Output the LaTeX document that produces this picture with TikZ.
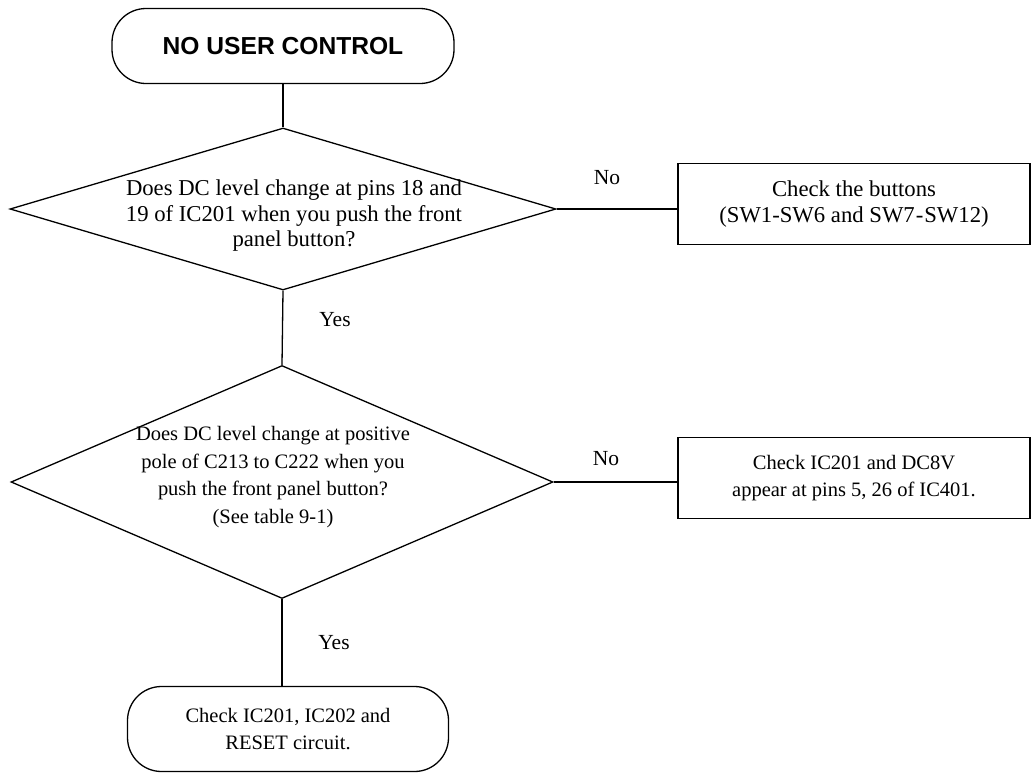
\documentclass[tikz,border=0pt]{standalone}
\usepackage{fontspec}
\setmainfont{Liberation Serif}
\newfontfamily\headfont{Liberation Sans}
\usetikzlibrary{shapes.geometric}

\begin{document}
\begin{tikzpicture}[x=1pt, y=-1pt, line width=1.3pt,
  bigtext/.style={font=\fontsize{22.7}{25.5}\selectfont},
  smalltext/.style={font=\fontsize{20.5}{27.5}\selectfont},
  terminal/.style={draw, rectangle, rounded corners=34pt, inner sep=0pt, align=center},
  decision/.style={draw, diamond, inner sep=0pt},
  qtext/.style={align=center, inner sep=0pt},
  action/.style={draw, rectangle, inner sep=0pt, align=center,
                 minimum width=352pt, minimum height=81pt},
  branch/.style={inner sep=0pt, font=\fontsize{21.5}{26}\selectfont}
]
\useasboundingbox (0,0) rectangle (1031,774);

% start terminal
\node[terminal, minimum width=342pt, minimum height=75pt] (start) at (283,46)
  {\headfont\bfseries\fontsize{24.6}{28}\selectfont NO USER CONTROL};

% first decision
\node[decision, minimum width=546pt, minimum height=162pt] (q1) at (283,209) {};
\node[qtext, bigtext] (q1t) at (294,216)
  {Does DC level change at pins 18 and\\19 of IC201 when you push the front\\panel button?};

% buttons check
\node[action, bigtext] (chk1) at (854,204)
  {Check the buttons\\(SW1-SW6 and SW7\kern1pt-\kern1ptSW12)};

% second decision
\node[decision, minimum width=542pt, minimum height=233pt] (q2) at (282,482) {};
\node[qtext, smalltext] (q2t) at (273,477)
  {Does DC level change at positive\\pole of C213 to C222 when you\\push the front panel button?\\(See table 9-1)};

% IC201 / DC8V check
\node[action, smalltext] (chk2) at (854,478)
  {Check IC201 and DC8V\\appear at pins 5, 26 of IC401.};

% end terminal
\node[terminal, smalltext, minimum width=321pt, minimum height=85pt] (finish) at (288,729)
  {Check IC201, IC202 and\\RESET circuit.};

% connectors
\draw (start.south) -- (q1.north);
\draw (q1.east) -- (q1.east -| chk1.west);
\draw (q1.south) -- (q2.north);
\draw (q2.east) -- (q2.east -| chk2.west);
\draw (q2.south) -- (q2.south |- finish.north);

% branch labels
\node[branch] (no1) at (607,178) {No};
\node[branch] (yes1) at (335,320) {Yes};
\node[branch] (no2) at (606,459) {No};
\node[branch] (yes2) at (334,643) {Yes};
\end{tikzpicture}
\end{document}
